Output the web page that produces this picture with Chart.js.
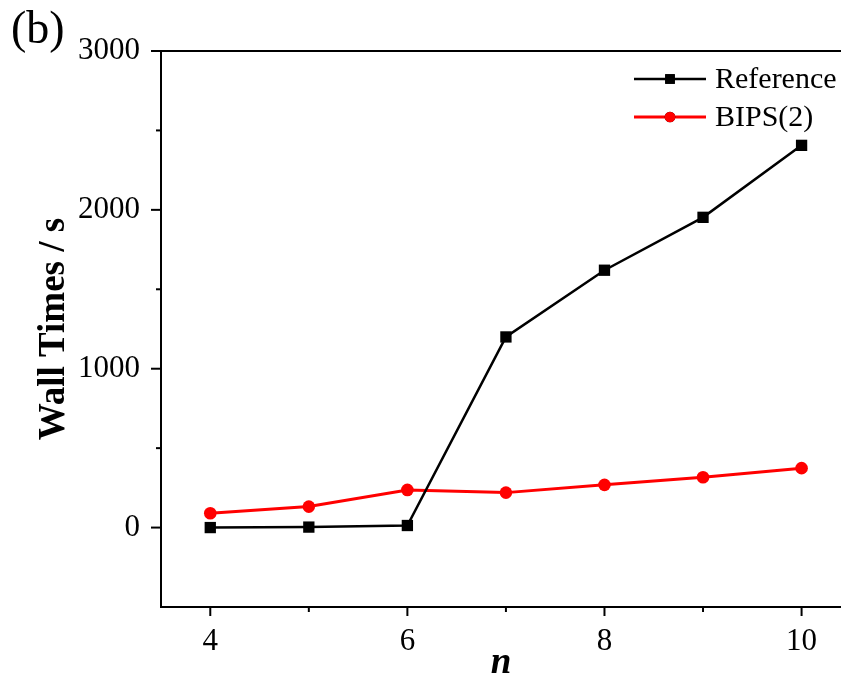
<!DOCTYPE html>
<html>
<head>
<meta charset="utf-8">
<script src="https://cdn.jsdelivr.net/npm/chart.js@4"></script>
<style>
  html, body { margin: 0; padding: 0; background: #fff; }
  #wrap { position: relative; width: 841px; height: 682px; }
  #panel { position: absolute; left: 11px; top: 1px; font: 46px "Liberation Serif", serif; color: #000; }
</style>
</head>
<body>
<div id="wrap">
  <canvas id="chart" width="841" height="682"></canvas>
  <div id="panel">(b)</div>
</div>
<script>
// valeurs
const nValues = [4, 5, 6, 7, 8, 9, 10];
const referenceTimes = [0, 3, 13, 1200, 1620, 1953, 2406];
const bipsTimes = [90, 132, 237, 220, 269, 317, 374];

const xTickValues = [4, 5, 6, 7, 8, 9, 10];
const yTickValues = [-500, 0, 500, 1000, 1500, 2000, 2500, 3000];

const serif = '"Liberation Serif", "Times New Roman", serif';

// petits traits des graduations + cadre du haut + légende
const axisExtras = {
    id: "axisExtras",
    afterDraw(chart) {
        let ctx = chart.ctx;
        let area = chart.chartArea;
        let xs = chart.scales.x;
        let ys = chart.scales.y;
        ctx.save();
        ctx.strokeStyle = "#000";
        ctx.lineWidth = 2;

        // cadre du haut
        ctx.beginPath();
        ctx.moveTo(area.left, area.top);
        ctx.lineTo(chart.width, area.top);
        ctx.stroke();

        xTickValues.forEach(v => {
            let px = xs.getPixelForValue(v);
            let len = v % 2 === 0 ? 9 : 5;
            ctx.beginPath();
            ctx.moveTo(px, area.bottom);
            ctx.lineTo(px, area.bottom + len);
            ctx.stroke();
        });
        yTickValues.forEach(v => {
            if (v === -500) return;
            let py = ys.getPixelForValue(v);
            let len = v % 1000 === 0 ? 10 : 5;
            ctx.beginPath();
            ctx.moveTo(area.left, py);
            ctx.lineTo(area.left - len, py);
            ctx.stroke();
        });

        // légende
        let items = [[chart.data.datasets[0], 79], [chart.data.datasets[1], 117]];
        items.forEach(([ds, y]) => {
            ctx.strokeStyle = ds.borderColor;
            ctx.lineWidth = ds.borderWidth;
            ctx.beginPath();
            ctx.moveTo(634, y);
            ctx.lineTo(706, y);
            ctx.stroke();
            Chart.helpers.drawPoint(ctx, {
                pointStyle: ds.pointStyle,
                radius: ds.pointRadius * 0.85,
                borderWidth: 0
            }, 670, y);
            ctx.fillStyle = ds.pointBackgroundColor;
            ctx.fill();
            ctx.fillStyle = "#000";
            ctx.font = "30px " + serif;
            ctx.textBaseline = "middle";
            ctx.textAlign = "left";
            ctx.fillText(ds.label, 715, y + 1);
        });
        ctx.restore();
    }
};

new Chart(document.getElementById("chart"), {
    type: "line",
    data: {
        datasets: [
            {
                label: "Reference",
                data: nValues.map((n, i) => ({ x: n, y: referenceTimes[i] })),
                borderColor: "#000000",
                backgroundColor: "#000000",
                pointBackgroundColor: "#000000",
                borderWidth: 2.5,
                pointStyle: "rect",
                pointRadius: 8,
                pointBorderWidth: 0
            },
            {
                label: "BIPS(2)",
                data: nValues.map((n, i) => ({ x: n, y: bipsTimes[i] })),
                borderColor: "#ff0000",
                backgroundColor: "#ff0000",
                pointBackgroundColor: "#ff0000",
                borderWidth: 3,
                pointStyle: "circle",
                pointRadius: 6.3,
                pointBorderWidth: 0
            }
        ]
    },
    options: {
        responsive: false,
        animation: false,
        layout: { autoPadding: false, padding: { top: 51, left: 0, right: 0, bottom: 0 } },
        plugins: {
            legend: { display: false },
            tooltip: { enabled: false }
        },
        scales: {
            x: {
                type: "linear",
                min: 3.5,
                max: 10.4,
                afterBuildTicks: scale => { scale.ticks = xTickValues.map(v => ({ value: v })); },
                afterFit: scale => {
                    scale.height = 75;
                    scale.paddingLeft = 0;
                    scale.paddingRight = 0;
                },
                grid: { display: false, drawTicks: false },
                border: { display: true, color: "#000", width: 2 },
                ticks: {
                    padding: 16,
                    maxRotation: 0,
                    autoSkip: false,
                    color: "#000",
                    font: { family: serif, size: 31 },
                    callback: v => (v % 2 === 0 ? String(v) : "")
                },
                title: {
                    display: true,
                    text: "n",
                    color: "#000",
                    padding: 0,
                    font: { family: serif, size: 37, weight: "bold", style: "italic", lineHeight: 1 }
                }
            },
            y: {
                type: "linear",
                min: -500,
                max: 3000,
                afterBuildTicks: scale => { scale.ticks = yTickValues.map(v => ({ value: v })); },
                afterFit: scale => {
                    scale.width = 161;
                    scale.paddingTop = 0;
                    scale.paddingBottom = 0;
                },
                grid: { display: false, drawTicks: false },
                border: { display: true, color: "#000", width: 2 },
                ticks: {
                    padding: 21,
                    autoSkip: false,
                    color: "#000",
                    font: { family: serif, size: 31 },
                    callback: v => (v % 1000 === 0 && v >= 0 ? String(v) : "")
                },
                title: {
                    display: true,
                    text: "Wall Times / s",
                    color: "#000",
                    padding: { top: 32, bottom: 0 },
                    font: { family: serif, size: 37, weight: "bold" }
                }
            }
        }
    },
    plugins: [axisExtras]
});
</script>
</body>
</html>
